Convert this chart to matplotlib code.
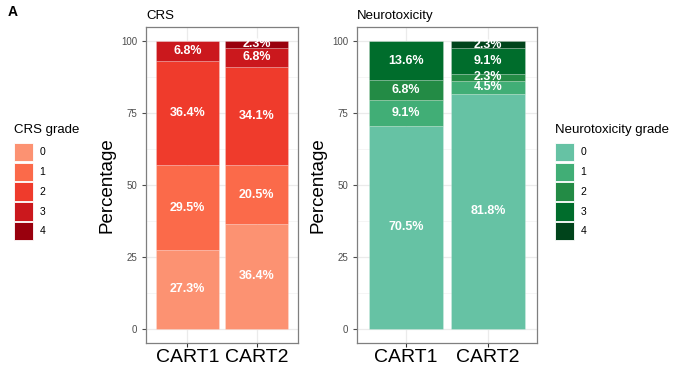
import numpy as np
import matplotlib.pyplot as plt
from matplotlib.patches import Patch
from matplotlib.ticker import MultipleLocator

plt.rcParams['font.family'] = ['Liberation Sans', 'DejaVu Sans']

groups = ['CART1', 'CART2']
grades = ['0', '1', '2', '3', '4']

# percentage per grade (rows) for CART1, CART2
crs_pct = np.array([
    [27.3, 36.4],
    [29.5, 20.5],
    [36.4, 34.1],
    [6.8, 6.8],
    [0.0, 2.3],
])
neuro_pct = np.array([
    [70.5, 81.8],
    [9.1, 4.5],
    [6.8, 2.3],
    [13.6, 9.1],
    [0.0, 2.3],
])

crs_colors = ['#FC9272', '#FB6A4A', '#EF3B2C', '#CB181D', '#99000D']
neuro_colors = ['#66C2A4', '#41AE76', '#238B45', '#006D2C', '#00441B']

W, H = 677, 376
fig = plt.figure(figsize=(W / 100, H / 100), dpi=100)


def panel(rect, data, colors, title):
    ax = fig.add_axes(rect)
    x = np.arange(1, len(groups) + 1)
    bottom = np.zeros(len(groups))
    for i, row in enumerate(data):
        ax.bar(x, row, width=0.9, bottom=bottom, color=colors[i],
               edgecolor=(1, 1, 1, 0.35), linewidth=0.4, zorder=3)
        for xi, b, v in zip(x, bottom, row):
            if v > 0:
                ax.text(xi, b + v / 2, f'{v:.1f}%', ha='center', va='center',
                        color='white', fontsize=9, fontweight='bold', zorder=4)
        bottom += row
    ax.set_xlim(0.4, len(groups) + 0.6)
    ax.set_ylim(-5, 105)
    ax.set_xticks(x)
    ax.set_xticklabels(groups, fontsize=14, color='black')
    ax.yaxis.set_major_locator(MultipleLocator(25))
    ax.yaxis.set_minor_locator(MultipleLocator(12.5))
    ax.set_yticks([0, 25, 50, 75, 100])
    ax.tick_params(axis='y', labelsize=7, colors='#4D4D4D', length=3, width=0.8)
    ax.tick_params(axis='y', which='minor', length=0)
    ax.tick_params(axis='x', length=3, width=0.8, colors='#333333', pad=1)
    for lab in ax.get_xticklabels():
        lab.set_color('black')
    ax.grid(True, which='major', color='#EBEBEB', linewidth=0.9, zorder=0)
    ax.grid(True, which='minor', axis='y', color='#F2F2F2', linewidth=0.5, zorder=0)
    ax.set_axisbelow(True)
    for s in ax.spines.values():
        s.set_color('#7F7F7F')
        s.set_linewidth(0.9)
    ax.set_ylabel('Percentage', fontsize=13.5, labelpad=4)
    ax.set_title(title, fontsize=9.5, loc='left', pad=6)
    return ax


ax1 = panel([146 / W, 33 / H, 152 / W, 316 / H], crs_pct, crs_colors, 'CRS')
ax2 = panel([357 / W, 33 / H, 180 / W, 316 / H], neuro_pct, neuro_colors, 'Neurotoxicity')

fig.text(8 / W, 1 - 12 / H, 'A', fontsize=10, fontweight='bold', va='center', ha='left')


def legend(x, y, colors, title):
    handles = [Patch(facecolor=c, edgecolor='white', linewidth=0.6) for c in colors]
    leg = fig.legend(handles, grades, title=title, loc='upper left',
                     bbox_to_anchor=(x / W, 1 - y / H), frameon=False,
                     fontsize=7.5, title_fontsize=9.5, handlelength=1.85,
                     handleheight=2.35, handletextpad=0.6, labelspacing=0.12,
                     borderpad=0, borderaxespad=0)
    leg._legend_box.align = 'left'
    leg._legend_box.sep = 5
    return leg


legend(14, 124, crs_colors, 'CRS grade')
legend(555, 124, neuro_colors, 'Neurotoxicity grade')

fig.savefig('out.png', dpi=100)
